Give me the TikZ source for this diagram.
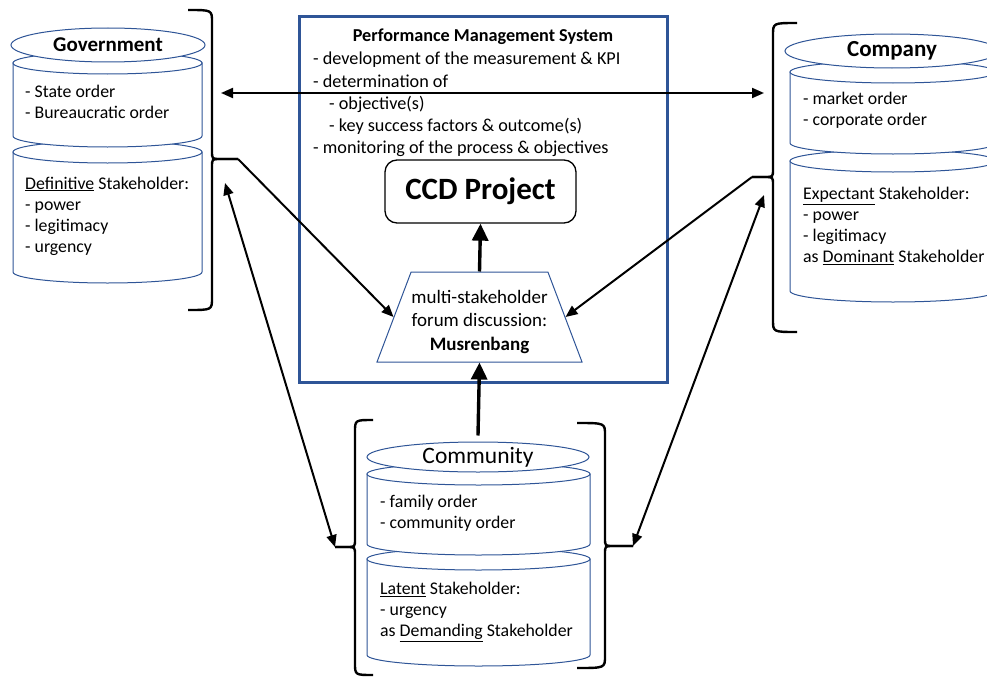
\documentclass[tikz,border=0pt]{standalone}
\usepackage{fontspec}
\setmainfont{Carlito}
\usepackage{tikz}
\usetikzlibrary{arrows.meta,shapes.geometric}

\definecolor{shapeblue}{RGB}{47,85,151}

\tikzset{
	cylpart/.style={draw=shapeblue, fill=white, line width=1pt},
	namecap/.style={ellipse, draw=shapeblue, fill=white, line width=1pt, inner sep=0pt},
	bracket/.style={line width=2.4pt, line join=round},
	listtxt/.style={align=left, inner sep=0pt, anchor=west, font=\fontsize{17.8}{21}\selectfont},
	link/.style={line width=2pt, -{Triangle[length=12pt,width=10pt]}},
	bilink/.style={line width=2pt, {Triangle[length=12pt,width=10pt]}-{Triangle[length=12pt,width=10pt]}},
	mainlink/.style={line width=3.4pt, -{Triangle[length=17pt,width=16pt]}},
}

\begin{document}
\begin{tikzpicture}[x=1pt,y=-1pt]
		\useasboundingbox (0,0) rectangle (987,677);
		\clip (0,0) rectangle (987,677);

		\foreach \cx/\rx/\yt/\yb in {107.5/94.5/152/272, 107.5/94.5/63/136, 893/103/161/291, 893/103/72/143, 478.5/111.5/559/655, 478.5/111.5/474/544} {
			\filldraw[cylpart] (\cx-\rx,\yt) -- (\cx-\rx,\yb) arc[start angle=180, end angle=0, x radius=\rx, y radius=11] -- (\cx+\rx,\yt) -- cycle;
			\filldraw[cylpart] (\cx,\yt) ellipse[x radius=\rx, y radius=11];
		}

		\node[namecap, minimum width=194pt, minimum height=34pt, font=\bfseries\fontsize{21}{24}\selectfont] (govname) at (108,45) {Government};
		\node[namecap, minimum width=214pt, minimum height=34pt, font=\bfseries\fontsize{23}{26}\selectfont] (compname) at (892,51) {Company};
		\node[namecap, minimum width=222pt, minimum height=30pt, font=\fontsize{23.5}{27}\selectfont] (commname) at (478,457) {Community};

		\node[listtxt] (govorder) at (25,101.5) {- State order\\- Bureaucratic order};
		\node[listtxt] (govstake) at (25,216) {\underline{Definitive} Stakeholder:\\- power\\- legitimacy\\- urgency};
		\node[listtxt] (comporder) at (803,110) {- market order\\- corporate order};
		\node[listtxt] (compstake) at (803,226) {\underline{Expectant} Stakeholder:\\- power\\- legitimacy\\as \underline{Dominant} Stakeholder};
		\node[listtxt] (commorder) at (380,513) {- family order\\- community order};
		\node[listtxt] (commstake) at (380,612) {\underline{Latent} Stakeholder:\\- urgency\\as \underline{Demanding} Stakeholder};

		\node[draw=shapeblue, line width=3pt, minimum width=368pt, minimum height=365pt] (pms) at (483,199.5) {};
		\node[font=\bfseries\fontsize{18.2}{22}\selectfont] (pmshead) at (483,37) {Performance Management System};
		\node[listtxt, font=\fontsize{18.2}{22.25}\selectfont] (pmslist) at (313,104.5) {- development of the measurement \& KPI\\- determination of\\\hspace*{16pt}- objective(s)\\\hspace*{16pt}- key success factors \& outcome(s)\\- monitoring of the process \& objectives};

		\node[draw, rounded corners=12pt, line width=1.3pt, minimum width=191pt, minimum height=63pt, font=\bfseries\fontsize{31}{36}\selectfont] (ccd) at (480.5,191.5) {CCD Project};
		\node[trapezium, draw=shapeblue, line width=1pt, trapezium left angle=76, trapezium right angle=76, trapezium stretches=true, minimum width=205pt, minimum height=90pt] (mus) at (479.5,317) {};
		\node[align=center, font=\fontsize{19}{23.5}\selectfont] (mustext) at (479.5,322) {multi-stakeholder\\forum discussion:\\\textbf{Musrenbang}};

		\foreach \xb/\xs/\xn/\xt/\ya/\ym/\yb/\nm in {188/212/220/238/10/159/310/govtip, 797/773/765/752/23/177/332/comptip, 373/355/347/335/420/547/675/commleft, 577/605/613/633/423/546/668/commright} {
			\draw[bracket] (\xb,\ya) .. controls (\xs,\ya) and (\xs,\ya) .. (\xs,\ya+12) -- (\xs,\ym-8) .. controls (\xs,\ym) and (\xs,\ym) .. (\xn,\ym) -- (\xt,\ym);
			\draw[bracket] (\xt,\ym) -- (\xn,\ym) .. controls (\xs,\ym) and (\xs,\ym) .. (\xs,\ym+8) -- (\xs,\yb-12) .. controls (\xs,\yb) and (\xs,\yb) .. (\xb,\yb);
			\coordinate (\nm) at (\xt,\ym);
		}

		\coordinate (govside) at (221,93);
		\coordinate (compside) at (764,93);
		\coordinate (govlow) at (225,183);
		\coordinate (complow) at (764,195);

		\draw[bilink] (govside) -- (compside);
		\draw[link] (govtip) -- (mus.west);
		\draw[link] (comptip) -- (mus.east);
		\draw[bilink] (govlow) -- (commleft);
		\draw[bilink] (complow) -- (commright);
		\draw[mainlink] ([yshift=6pt]commname.north) -- (mus.south);
		\draw[mainlink] (mus.north) -- (ccd.south);
	\end{tikzpicture}
\end{document}
